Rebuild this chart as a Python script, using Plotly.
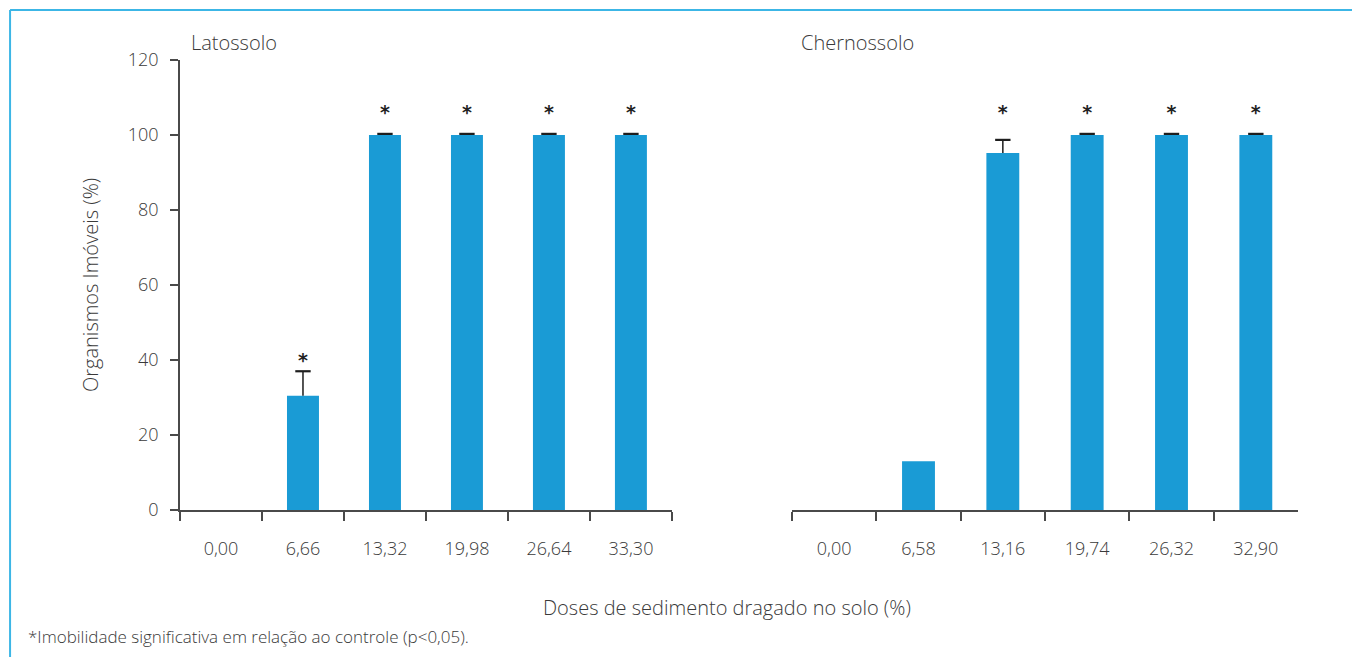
import plotly.graph_objects as go

_BAR_COLOR = "#1a9bd5"
_FRAME_COLOR = "#3cb6e6"
_AXIS_COLOR = "#4a4a4a"
_TEXT_COLOR = "#3a3a3a"
_FONT = "Open Sans"

doses_latossolo = ["0,00", "6,66", "13,32", "19,98", "26,64", "33,30"]
imoveis_latossolo = [0, 30.5, 100, 100, 100, 100]
erro_latossolo = [None, 6.5, 0.3, 0.3, 0.3, 0.3]
signif_latossolo = [False, True, True, True, True, True]

doses_chernossolo = ["0,00", "6,58", "13,16", "19,74", "26,32", "32,90"]
imoveis_chernossolo = [0, 13, 95.2, 100, 100, 100]
erro_chernossolo = [None, None, 3.5, 0.3, 0.3, 0.3]
signif_chernossolo = [False, False, True, True, True, True]

y_ticks = [0, 20, 40, 60, 80, 100, 120]


def _font(size):
    return dict(family=_FONT, size=size, color=_TEXT_COLOR, weight=300)


def _bar_trace(doses, values, xaxis):
    return go.Bar(
        x=doses,
        y=values,
        xaxis=xaxis,
        yaxis="y",
        marker=dict(color=_BAR_COLOR, line=dict(width=0)),
        width=0.39,
        showlegend=False,
        hoverinfo="x+y",
    )


def _error_traces(doses, values, errors, xaxis):
    # stems (upper half only) + cap markers on top
    sx, sy, cx, cy = [], [], [], []
    for d, v, e in zip(doses, values, errors):
        if e is None:
            continue
        sx += [d, d, None]
        sy += [v, v + e, None]
        cx.append(d)
        cy.append(v + e)
    stems = go.Scatter(
        x=sx, y=sy, xaxis=xaxis, yaxis="y", mode="lines",
        line=dict(color="#2a2a2a", width=1.6),
        showlegend=False, hoverinfo="skip",
    )
    caps = go.Scatter(
        x=cx, y=cy, xaxis=xaxis, yaxis="y", mode="markers",
        marker=dict(symbol="line-ew", size=11, line=dict(color="#1e1e1e", width=2.2)),
        showlegend=False, hoverinfo="skip",
    )
    return [stems, caps]


def _star_trace(doses, values, errors, signif, xaxis):
    tops = [v + (e or 0) for v, e in zip(values, errors)]
    row = max(tops) + 5.3
    xs, ys = [], []
    for d, t, s in zip(doses, tops, signif):
        if s:
            xs.append(d)
            ys.append(row if t > 0.9 * max(tops) else t + 2.5)
    return go.Scatter(
        x=xs,
        y=ys,
        xaxis=xaxis,
        yaxis="y",
        mode="text",
        text=["*"] * len(xs),
        textposition="middle center",
        textfont=dict(family="DejaVu Sans", size=19, color="#222222", weight="bold"),
        showlegend=False,
        hoverinfo="skip",
    )


fig = go.Figure()
fig.add_trace(_bar_trace(doses_latossolo, imoveis_latossolo, "x"))
fig.add_trace(_bar_trace(doses_chernossolo, imoveis_chernossolo, "x2"))
for tr in _error_traces(doses_latossolo, imoveis_latossolo, erro_latossolo, "x"):
    fig.add_trace(tr)
for tr in _error_traces(doses_chernossolo, imoveis_chernossolo, erro_chernossolo, "x2"):
    fig.add_trace(tr)
fig.add_trace(_star_trace(doses_latossolo, imoveis_latossolo, erro_latossolo, signif_latossolo, "x"))
fig.add_trace(_star_trace(doses_chernossolo, imoveis_chernossolo, erro_chernossolo, signif_chernossolo, "x2"))

_xaxis_common = dict(
    type="category",
    showline=True,
    linecolor=_AXIS_COLOR,
    linewidth=1.5,
    ticks="outside",
    tickson="boundaries",
    ticklen=9,
    tickwidth=1.5,
    tickcolor=_AXIS_COLOR,
    ticklabelstandoff=22,
    showgrid=False,
    zeroline=False,
    tickfont=_font(18),
    anchor="y",
)

# the page body adds an 8px offset, margins compensate for it
fig.update_layout(
    width=1360,
    height=657,
    margin=dict(l=172, r=70, t=52, b=155),
    paper_bgcolor="white",
    plot_bgcolor="white",
    font=dict(family=_FONT, color=_TEXT_COLOR),
    xaxis=dict(domain=[0, 0.44], **_xaxis_common),
    xaxis2=dict(domain=[0.5474, 1], **_xaxis_common),
    yaxis=dict(
        range=[0, 120],
        tickvals=y_ticks,
        ticktext=[str(t) for t in y_ticks],
        showline=True,
        linecolor=_AXIS_COLOR,
        linewidth=1.5,
        ticks="outside",
        ticklen=8,
        tickwidth=1.5,
        tickcolor=_AXIS_COLOR,
        ticklabelstandoff=8,
        showgrid=False,
        zeroline=False,
        tickfont=_font(18),
    ),
    shapes=[
        dict(type="line", xref="paper", yref="paper", x0=-0.152, x1=1.07, y0=1.111, y1=1.111,
             line=dict(color=_FRAME_COLOR, width=2)),
        dict(type="line", xref="paper", yref="paper", x0=-0.152, x1=-0.152, y0=1.111, y1=-0.35,
             line=dict(color=_FRAME_COLOR, width=2)),
    ],
    annotations=[
        dict(text="Latossolo", xref="paper", yref="paper", x=0.008, y=1.0378,
             xanchor="left", yanchor="middle", showarrow=False, font=_font(20)),
        dict(text="Chernossolo", xref="paper", yref="paper", x=0.5537, y=1.0378,
             xanchor="left", yanchor="middle", showarrow=False, font=_font(20)),
        dict(text="Organismos Imóveis (%)", xref="paper", yref="paper", x=-0.0805, y=0.5,
             xanchor="center", yanchor="middle", textangle=-90, showarrow=False, font=_font(20)),
        dict(text="Doses de sedimento dragado no solo (%)", xref="paper", yref="paper",
             x=0.4893, y=-0.2156, xanchor="center", yanchor="middle", showarrow=False,
             font=_font(20)),
        dict(text="*Imobilidade significativa em relação ao controle (p<0,05).",
             xref="paper", yref="paper", x=-0.1378, y=-0.2822,
             xanchor="left", yanchor="middle", showarrow=False, font=_font(17)),
    ],
)

fig.write_html("out.html")
